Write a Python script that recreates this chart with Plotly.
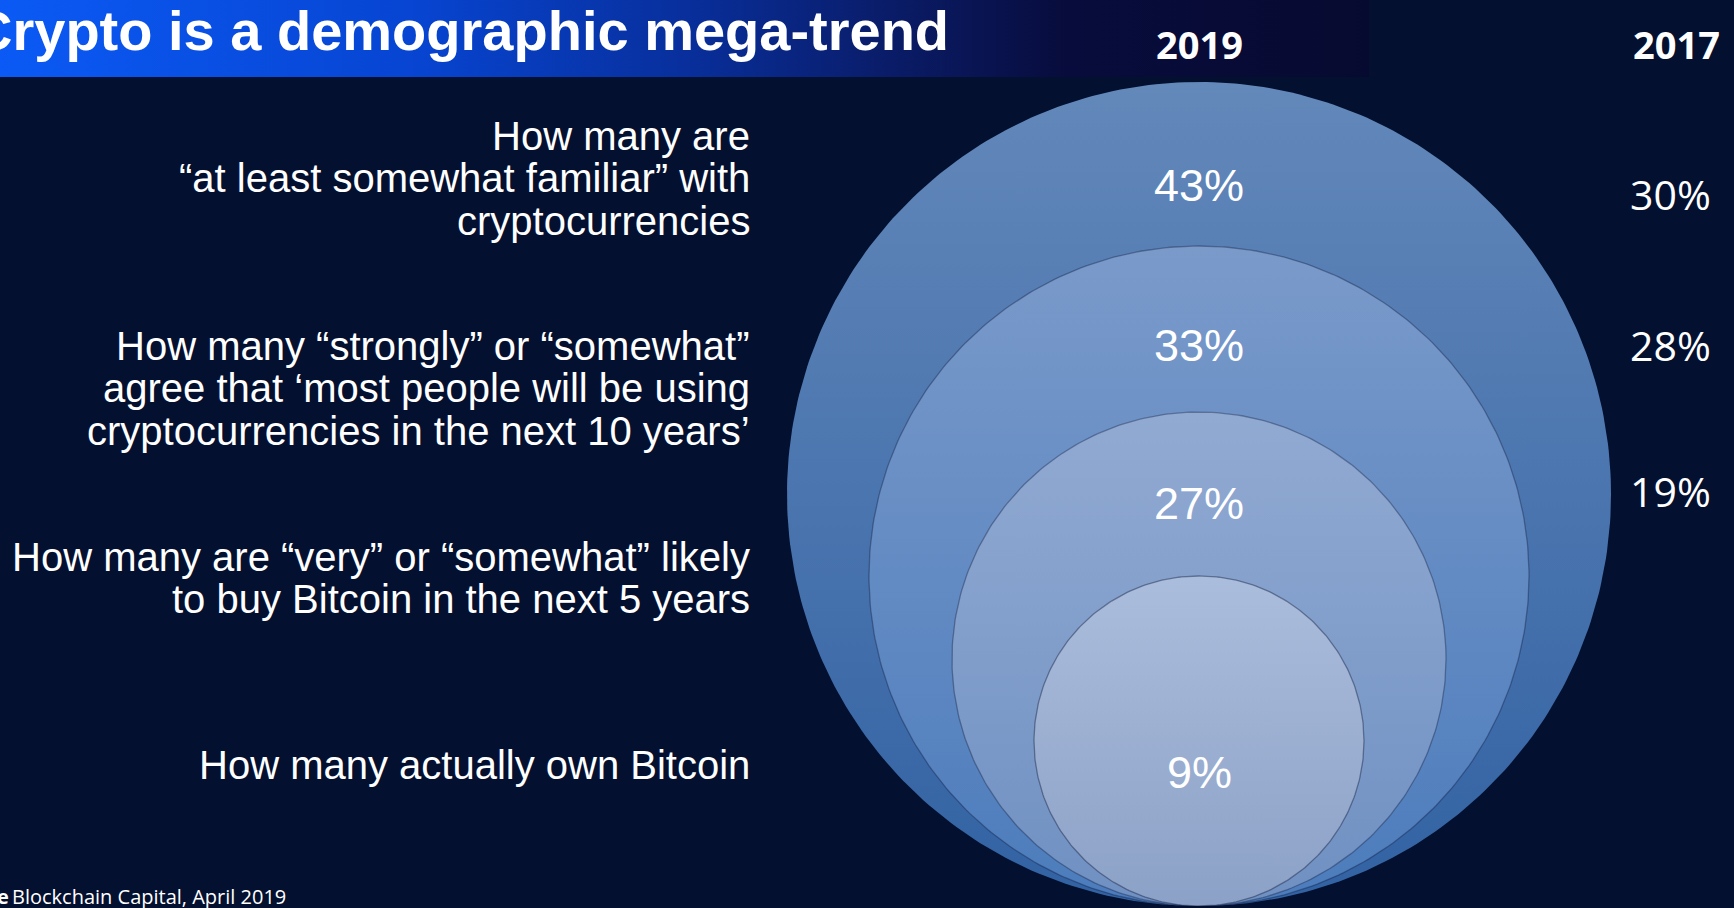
import numpy as np
import plotly.graph_objects as go

# ---------------- data ----------------
title_text = "Crypto is a demographic mega-trend"
source_text = "Blockchain Capital, April 2019"
years = ["2019", "2017"]
questions = [
    ["How many are", "“at least somewhat familiar” with", "cryptocurrencies"],
    ["How many “strongly” or “somewhat”", "agree that ‘most people will be using",
     "cryptocurrencies in the next 10 years’"],
    ["How many are “very” or “somewhat” likely", "to buy Bitcoin in the next 5 years"],
    ["How many actually own Bitcoin"],
]
pct_2019 = [43, 33, 27, 9]
pct_2017 = [30, 28, 19]

# ---------------- layout / style ----------------
W, H = 1734, 908
BG = "#03102f"
CX, BASE_Y = 1199, 906
radii = [412, 330, 247, 165]
top_colors = ["#6388ba", "#7a9aca", "#91aad2", "#abbddc"]
bot_colors = ["#3262a3", "#4c7cbc", "#6f90c2", "#8ca1c7"]
outline = ["rgba(8,18,48,0)", "rgba(8,18,48,0.35)", "rgba(8,18,48,0.35)", "rgba(8,18,48,0.4)"]
label_y_2019 = [185, 345, 503, 772]
label_y_2017 = [194, 345, 491]
x_2017 = 1670
question_y = [178, 388, 578, 765]
line_gap = 42.5
label_right = 752

fig = go.Figure()

# title banner with horizontal gradient
fig.add_trace(go.Scatter(
    x=[0, 1369, 1369, 0, 0], y=[0, 0, 77, 77, 0],
    mode="lines", line=dict(width=0), fill="toself",
    fillgradient=dict(type="horizontal",
                      colorscale=[[0, "#0b5af5"], [0.3, "#0745d2"], [0.5, "#082f9c"],
                                  [0.65, "#0a1c68"], [0.78, "#080c3c"], [1, "#070a30"]],
                      start=0, stop=1369),
    hoverinfo="skip", showlegend=False))

theta = np.linspace(0, 2 * np.pi, 361)
for r, ct, cb, oc in zip(radii, top_colors, bot_colors, outline):
    cy = BASE_Y - r
    fig.add_trace(go.Scatter(
        x=CX + r * np.cos(theta), y=cy + r * np.sin(theta),
        mode="lines", line=dict(color=oc, width=1.3),
        fill="toself",
        fillgradient=dict(type="vertical", colorscale=[[0, ct], [1, cb]],
                          start=cy - r, stop=cy + r),
        hoverinfo="skip", showlegend=False))

ann = []
# title (paper coords so it may start left of the page, like the reference)
ann.append(dict(x=-30 / W, y=1 - 30 / H, xref="paper", yref="paper", xanchor="left", yanchor="middle",
                text="<b>" + title_text + "</b>", showarrow=False,
                font=dict(family="Liberation Sans, Arial", size=56, color="white")))
# year headers
ann.append(dict(x=CX, y=44, xref="x", yref="y", text="<b>" + years[0] + "</b>", showarrow=False,
                font=dict(family="Open Sans", size=38, color="white")))
ann.append(dict(x=1676, y=44, xref="x", yref="y", text="<b>" + years[1] + "</b>", showarrow=False,
                font=dict(family="Open Sans", size=38, color="white")))
# questions
for lines, yc in zip(questions, question_y):
    n = len(lines)
    for i, ln in enumerate(lines):
        yy = yc + (i - (n - 1) / 2) * line_gap
        ann.append(dict(x=label_right, y=yy, xref="x", yref="y", xanchor="right", yanchor="middle",
                        text=ln, showarrow=False,
                        font=dict(family="Liberation Sans, Arial", size=40, color="white")))
# 2019 values
for v, yy in zip(pct_2019, label_y_2019):
    ann.append(dict(x=CX, y=yy, xref="x", yref="y", text=f"{v}%", showarrow=False,
                    font=dict(family="Liberation Sans, Arial", size=45, color="white")))
# 2017 values
for v, yy in zip(pct_2017, label_y_2017):
    ann.append(dict(x=x_2017, y=yy, xref="x", yref="y", text=f"{v}%", showarrow=False,
                    font=dict(family="Open Sans", size=41, color="white")))
# source (the word "Source" runs off the left edge, as in the reference)
ann.append(dict(x=11 / W, y=1 - 896 / H, xref="paper", yref="paper", xanchor="right", yanchor="middle",
                text="<b>Source</b>", showarrow=False,
                font=dict(family="Open Sans", size=20, color="white")))
ann.append(dict(x=10, y=896, xref="x", yref="y", xanchor="left", yanchor="middle",
                text=source_text, showarrow=False,
                font=dict(family="Open Sans", size=20, color="white")))

fig.update_layout(
    width=W, height=H, margin=dict(l=0, r=0, t=0, b=0),
    paper_bgcolor=BG, plot_bgcolor=BG, showlegend=False,
    xaxis=dict(range=[0, W], visible=False, fixedrange=True),
    yaxis=dict(range=[H, 0], visible=False, fixedrange=True),
    annotations=ann,
)

fig.write_html("out.html")
